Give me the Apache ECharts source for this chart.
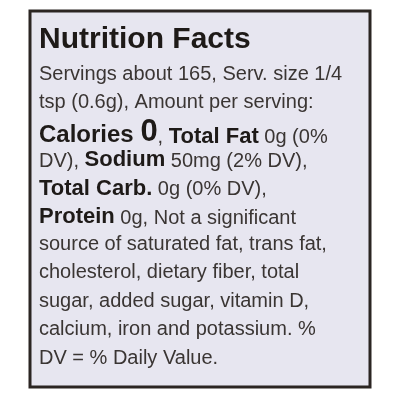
<!DOCTYPE html>
<html>
<head>
    <meta charset="utf-8">
    <script src="https://cdn.jsdelivr.net/npm/echarts@6/dist/echarts.min.js"></script>
    <style>html,body{margin:0;background:#fff}#main{width:400px;height:400px}</style>
</head>
<body>
    <div id="main"></div>
    <script type="text/javascript">
        var myChart = echarts.init(document.getElementById('main'));

        var title = 'Nutrition Facts';
        // each line: list of [text, style]  (n = normal, b = bold, c = calories bold, big = big zero)
        var lines = [
            [['Servings about 165, Serv. size 1/4', 'n']],
            [['tsp (0.6g), Amount per serving:', 'n']],
            [['Calories ', 'c'], ['0', 'big'], [', ', 'n'], ['Total Fat', 'b'], [' 0g (0%', 'n']],
            [['DV), ', 'n'], ['Sodium', 'b'], [' 50mg (2% DV),', 'n']],
            [['Total Carb.', 'b'], [' 0g (0% DV),', 'n']],
            [['Protein', 'b'], [' 0g, Not a significant', 'n']],
            [['source of saturated fat, trans fat,', 'n']],
            [['cholesterol, dietary fiber, total', 'n']],
            [['sugar, added sugar, vitamin D,', 'n']],
            [['calcium, iron and potassium. %', 'n']],
            [['DV = % Daily Value.', 'n']]
        ];

        var font = 'Liberation Sans, Arial, sans-serif';
        var graphics = [
            { type: 'rect', shape: { x: 30, y: 11, width: 340, height: 376 },
              style: { fill: '#e7e6f0', stroke: '#2b2522', lineWidth: 3 } },
            { type: 'text', left: 39, top: 25,
              style: { text: title, font: 'bold 30px ' + font, fill: '#1e1a18' } }
        ];

        lines.forEach(function (segs, i) {
            graphics.push({
                type: 'text', left: 39, top: 64 + i * 28.4 - (i === 2 ? 4 : 0),
                style: {
                    text: segs.map(function (s) { return '{' + s[1] + '|' + s[0] + '}'; }).join(''),
                    rich: {
                        n: { font: '20px ' + font, fill: '#3a3533', verticalAlign: 'bottom' },
                        b: { font: 'bold 22px ' + font, fill: '#1e1a18', verticalAlign: 'bottom' },
                        c: { font: 'bold 24px ' + font, fill: '#1e1a18', verticalAlign: 'bottom' },
                        big: { font: 'bold 31px ' + font, fill: '#1e1a18', verticalAlign: 'bottom' }
                    }
                }
            });
        });

        myChart.setOption({ graphic: graphics });
    </script>
</body>
</html>
